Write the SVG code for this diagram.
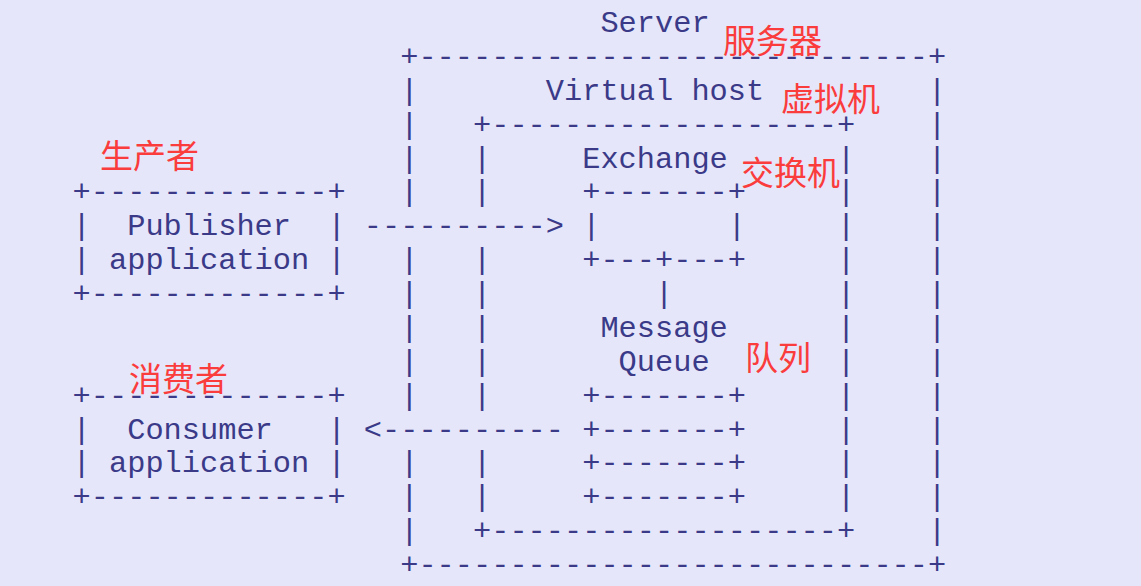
<svg xmlns="http://www.w3.org/2000/svg" width="1141" height="586" viewBox="0 0 1141 586">
<style>
.m{font-family:"Liberation Mono","Courier New",monospace;font-size:30.33px;fill:#3a3a88}
.zh{font-family:"Noto Sans CJK SC","Noto Sans",sans-serif;font-size:33px;fill:#fa3c3c}
</style>
<rect width="1141" height="586" fill="#e6e6fa"/>
<g id="server" class="m">
<text x="600.4" y="32">Server</text>
<text x="400.2" y="65.9">+----------------------------+</text>
<text x="400.2" y="574">+----------------------------+</text>
<text x="400.2" y="99.8">|</text><text x="400.2" y="133.6">|</text><text x="400.2" y="167.5">|</text><text x="400.2" y="201.4">|</text>
<text x="400.2" y="269.1">|</text><text x="400.2" y="303">|</text><text x="400.2" y="336.9">|</text><text x="400.2" y="370.8">|</text><text x="400.2" y="404.6">|</text>
<text x="400.2" y="472.4">|</text><text x="400.2" y="506.3">|</text><text x="400.2" y="540.1">|</text>
<text x="928" y="99.8">|</text><text x="928" y="133.6">|</text><text x="928" y="167.5">|</text><text x="928" y="201.4">|</text><text x="928" y="235.3">|</text>
<text x="928" y="269.1">|</text><text x="928" y="303">|</text><text x="928" y="336.9">|</text><text x="928" y="370.8">|</text><text x="928" y="404.6">|</text>
<text x="928" y="438.5">|</text><text x="928" y="472.4">|</text><text x="928" y="506.3">|</text><text x="928" y="540.1">|</text>
</g>
<g id="vhost" class="m">
<text x="545.8" y="99.8">Virtual host</text>
<text x="473" y="133.6">+-------------------+</text>
<text x="473" y="540.1">+-------------------+</text>
<text x="473" y="167.5">|</text><text x="473" y="201.4">|</text><text x="473" y="269.1">|</text><text x="473" y="303">|</text>
<text x="473" y="336.9">|</text><text x="473" y="370.8">|</text><text x="473" y="404.6">|</text><text x="473" y="472.4">|</text><text x="473" y="506.3">|</text>
<text x="837" y="167.5">|</text><text x="837" y="201.4">|</text><text x="837" y="235.3">|</text><text x="837" y="269.1">|</text><text x="837" y="303">|</text>
<text x="837" y="336.9">|</text><text x="837" y="370.8">|</text><text x="837" y="404.6">|</text><text x="837" y="438.5">|</text><text x="837" y="472.4">|</text><text x="837" y="506.3">|</text>
</g>
<g id="exchange" class="m">
<text x="582.2" y="167.5">Exchange</text>
<text x="582.2" y="201.4">+-------+</text>
<text x="582.2" y="235.3">|</text><text x="727.8" y="235.3">|</text>
<text x="582.2" y="269.1">+---+---+</text>
</g>
<g id="queue" class="m">
<text x="600.4" y="336.9">Message</text>
<text x="618.6" y="370.8">Queue</text>
<text x="582.2" y="404.6">+-------+</text>
<text x="582.2" y="438.5">+-------+</text>
<text x="582.2" y="472.4">+-------+</text>
<text x="582.2" y="506.3">+-------+</text>
</g>
<g id="publisher" class="m">
<text x="72.6" y="201.4">+-------------+</text>
<text x="72.6" y="235.3">|</text><text x="127.2" y="235.3">Publisher</text><text x="327.4" y="235.3">|</text>
<text x="72.6" y="269.1">|</text><text x="109" y="269.1">application</text><text x="327.4" y="269.1">|</text>
<text x="72.6" y="303">+-------------+</text>
</g>
<g id="consumer" class="m">
<text x="72.6" y="404.6">+-------------+</text>
<text x="72.6" y="438.5">|</text><text x="127.2" y="438.5">Consumer</text><text x="327.4" y="438.5">|</text>
<text x="72.6" y="472.4">|</text><text x="109" y="472.4">application</text><text x="327.4" y="472.4">|</text>
<text x="72.6" y="506.3">+-------------+</text>
</g>
<g id="connectors" class="m">
<text x="363.8" y="235.3">----------&gt;</text>
<text x="363.8" y="438.5">&lt;----------</text>
<text x="655" y="303">|</text>
</g>
<g id="labels" class="zh">
<text x="723" y="53">服务器</text>
<text x="781" y="111">虚拟机</text>
<text x="741" y="185">交换机</text>
<text x="100" y="168">生产者</text>
<text x="129" y="391">消费者</text>
<text x="745" y="370">队列</text>
</g>
</svg>
